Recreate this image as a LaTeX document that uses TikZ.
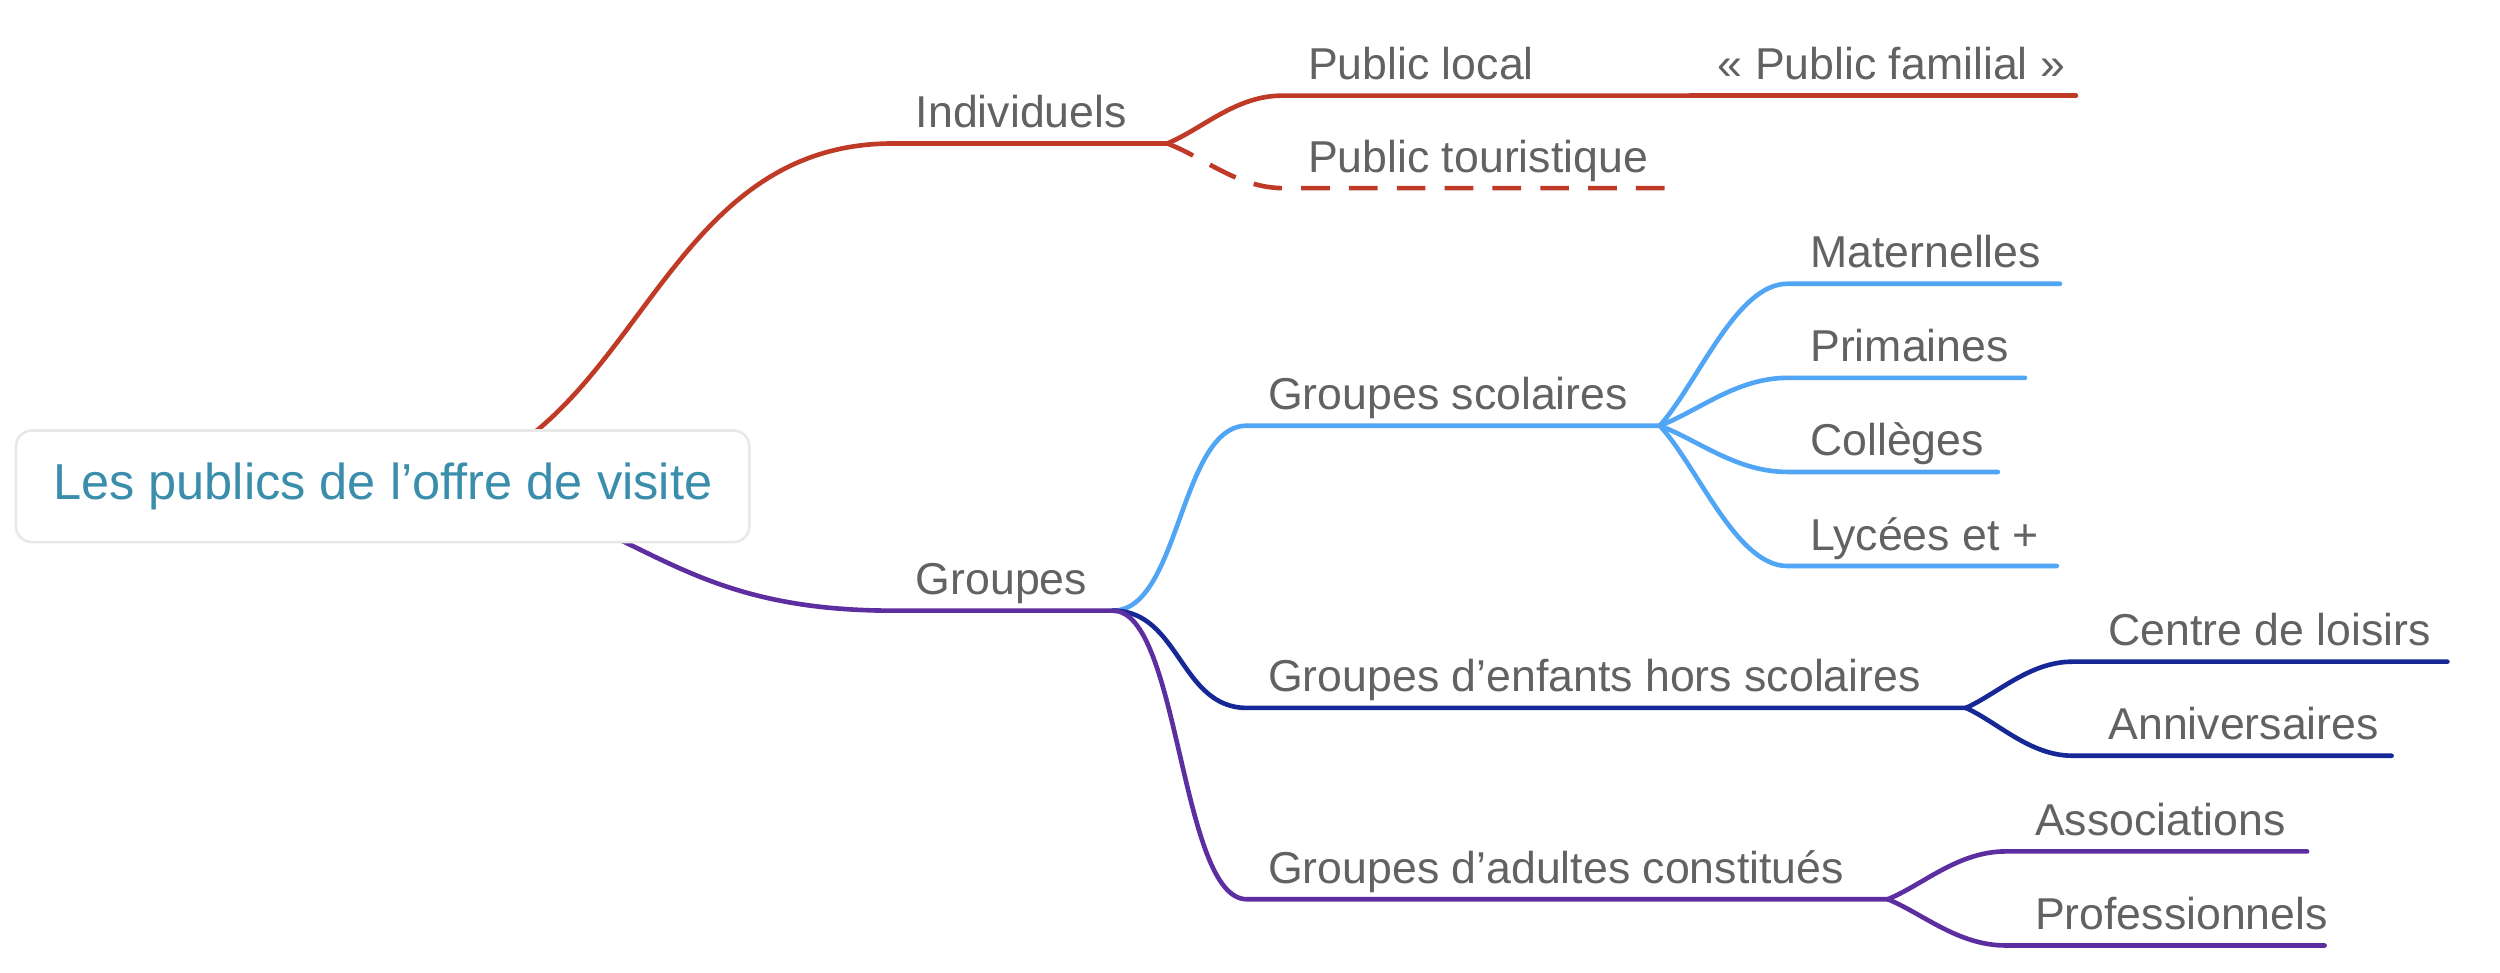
\documentclass[tikz,border=0pt]{standalone}
\usepackage{fontspec}
\setmainfont{Liberation Sans}
\usetikzlibrary{backgrounds}
\definecolor{cred}{RGB}{192,58,40}
\definecolor{cblue}{RGB}{80,165,245}
\definecolor{cdark}{RGB}{22,40,150}
\definecolor{cpurp}{RGB}{92,46,160}
\definecolor{ctxt}{RGB}{98,98,98}
\definecolor{croot}{RGB}{58,142,172}
\definecolor{cbox}{RGB}{232,232,232}
\tikzset{
  lbl/.style={anchor=base west, inner sep=0pt, text=ctxt, font=\fontsize{14}{16}\selectfont},
  conn/.style={line width=1.45pt, line cap=round, line join=round},
  dashconn/.style={conn, line cap=butt, dash pattern=on 9pt off 6pt},
  rootbox/.style={draw=cbox, line width=0.8pt, fill=white, rounded corners=5pt,
    minimum width=230pt, minimum height=35pt, inner sep=0pt, text=croot,
    font=\fontsize{15.85}{18}\selectfont}
}
\begin{document}
\begin{tikzpicture}[x=0.5pt,y=-0.5pt]
\useasboundingbox (0,0) rectangle (1568,610);
% root
\node[rootbox] (root) at (240,305) {Les publics de l’offre de visite};
% coordinates
\coordinate (indS) at (560,90);  \coordinate (indE) at (732,90);
\coordinate (plS) at (804,60);   \coordinate (plE) at (1060,60);
\coordinate (famE) at (1302,60);
\coordinate (ptS) at (805,118);  \coordinate (ptE) at (1045,118);
\coordinate (grS) at (560,383);  \coordinate (grE) at (698,383);
\coordinate (scS) at (782,267);  \coordinate (scE) at (1041,267);
\coordinate (enS) at (782,444);  \coordinate (enE) at (1233,444);
\coordinate (adS) at (782,564);  \coordinate (adE) at (1184,564);
\coordinate (maS) at (1121,178); \coordinate (maE) at (1292,178);
\coordinate (prS) at (1121,237); \coordinate (prE) at (1270,237);
\coordinate (coS) at (1121,296); \coordinate (coE) at (1253,296);
\coordinate (lyS) at (1121,355); \coordinate (lyE) at (1290,355);
\coordinate (clS) at (1300,415); \coordinate (clE) at (1535,415);
\coordinate (anS) at (1300,474); \coordinate (anE) at (1500,474);
\coordinate (asS) at (1258,534); \coordinate (asE) at (1447,534);
\coordinate (pfS) at (1258,593); \coordinate (pfE) at (1458,593);
% labels
\node[lbl] (ind) at (574,80) {Individuels};
\node[lbl] (pl) at (820,50) {Public local};
\node[lbl] (fam) at (1077,50) {«~Public familial~»};
\node[lbl] (pt) at (820,108) {Public touristique};
\node[lbl] (gr) at (574,373) {Groupes};
\node[lbl] (sc) at (795,257) {Groupes scolaires};
\node[lbl] (ma) at (1135,168) {Maternelles};
\node[lbl] (pr) at (1135,227) {Primaines};
\node[lbl] (co) at (1135,286) {Collèges};
\node[lbl] (ly) at (1135,345) {Lycées et +};
\node[lbl] (en) at (795,434) {Groupes d’enfants hors scolaires};
\node[lbl] (cl) at (1322,405) {Centre de loisirs};
\node[lbl] (an) at (1322,464) {Anniversaires};
\node[lbl] (ad) at (795,554) {Groupes d’adultes constitués};
\node[lbl] (as) at (1276,524) {Associations};
\node[lbl] (pf) at (1276,583) {Professionnels};
% connectors
\begin{scope}[on background layer]
\draw[conn, cred] (root.center) .. controls +(160,0) and +(-160,0) .. (indS) -- (indE);
\draw[conn, cpurp] (root.center) .. controls +(160,0) and +(-160,0) .. (grS) -- (grE);
\end{scope}
\draw[conn, cred] (indE) .. controls +(22,-9) and +(-29,0) .. (plS) -- (plE);
\draw[conn, cred] (plE) -- (famE);
\draw[dashconn, cred] (indE) .. controls +(22,8) and +(-29,0) .. (ptS) -- (ptE);
\draw[conn, cblue] (grE) .. controls +(42,0) and +(-42,0) .. (scS) -- (scE);
\draw[conn, cdark] (grE) .. controls +(42,0) and +(-42,0) .. (enS) -- (enE);
\draw[conn, cpurp] (grE) .. controls +(42,0) and +(-42,0) .. (adS) -- (adE);
\draw[conn, cblue] (scE) .. controls +(24,-27) and +(-32,0) .. (maS) -- (maE);
\draw[conn, cblue] (scE) .. controls +(24,-9) and +(-32,0) .. (prS) -- (prE);
\draw[conn, cblue] (scE) .. controls +(24,9) and +(-32,0) .. (coS) -- (coE);
\draw[conn, cblue] (scE) .. controls +(24,26) and +(-32,0) .. (lyS) -- (lyE);
\draw[conn, cdark] (enE) .. controls +(20,-9) and +(-27,0) .. (clS) -- (clE);
\draw[conn, cdark] (enE) .. controls +(20,9) and +(-27,0) .. (anS) -- (anE);
\draw[conn, cpurp] (adE) .. controls +(22,-9) and +(-30,0) .. (asS) -- (asE);
\draw[conn, cpurp] (adE) .. controls +(22,9) and +(-30,0) .. (pfS) -- (pfE);
\end{tikzpicture}
\end{document}
